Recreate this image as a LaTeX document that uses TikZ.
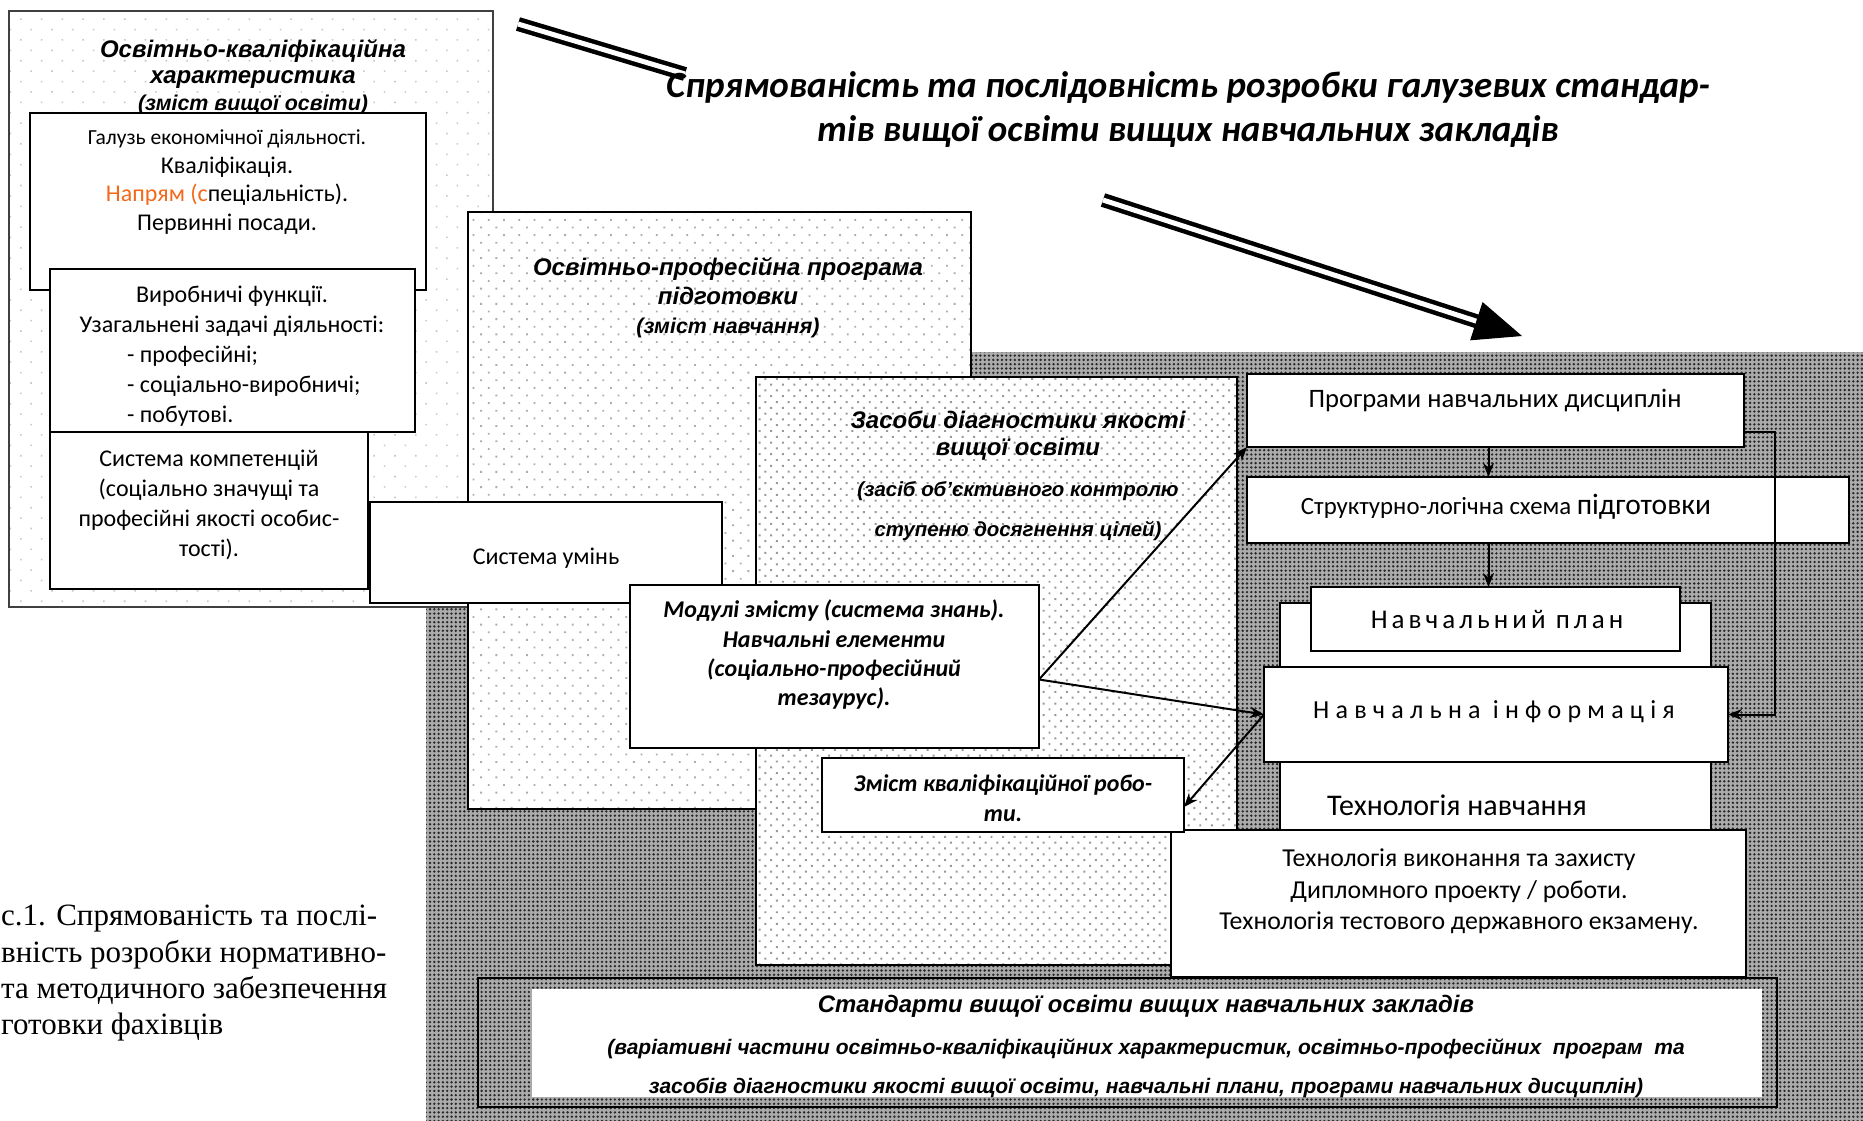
\documentclass[tikz,border=0pt]{standalone}
\usepackage{fontspec}
\setmainfont{Carlito}
\newfontfamily\arialf{Liberation Sans}
\newfontfamily\timesf{Liberation Serif}
\newfontfamily\infofont[LetterSpace=24]{Carlito}
\newfontfamily\planfont[LetterSpace=15]{Carlito}
\usetikzlibrary{positioning,patterns.meta,arrows.meta,calc}
\definecolor{napryam}{HTML}{F26A1B}

\tikzset{
  frame/.style={draw, line width=1.6pt, inner sep=0pt, outer sep=0pt, anchor=north west},
  wbox/.style={frame, fill=white},
  dotbox/.style={frame, preaction={fill=white}, pattern={Dots[angle=45,distance=10.8pt,radius=1.3pt]}, pattern color=black!32},
  sparsebox/.style={frame, preaction={fill=white}, pattern={Dots[angle=45,distance=14.7pt,radius=1.1pt]}, pattern color=black!22},
  densebox/.style={frame, preaction={fill=white}, pattern={Dots[angle=45,distance=8.2pt,radius=1.4pt]}, pattern color=black!40},
  greyarea/.style={frame, preaction={fill=black!33}, pattern={Dots[distance=4.3pt,radius=1.3pt]}, pattern color=black!85},
  cal/.style 2 args={font=\fontsize{#1}{#2}\selectfont, align=center, inner sep=0pt},
  calbi/.style 2 args={font=\bfseries\itshape\fontsize{#1}{#2}\selectfont, align=center, inner sep=0pt},
  ari/.style 2 args={font=\arialf\bfseries\itshape\fontsize{#1}{#2}\selectfont, align=center, inner sep=0pt},
  arr/.style={line width=2pt, -{Stealth[length=14pt,width=11pt]}},
  dbl/.style={line width=4.5pt, double=white, double distance=5pt}
}

\begin{document}
\begin{tikzpicture}[x=1pt,y=-1pt]
  \useasboundingbox (0,0) rectangle (1863,1121);

  \node[greyarea, draw=none, minimum width=1437pt, minimum height=769pt] (grey) at (426,352) {};

  \node[sparsebox, draw=black!75, minimum width=484pt, minimum height=596pt] (okh) at (9,11) {};
  \node[ari={24}{26.5}, anchor=north] (okhT) at (253,39) {Освітньо-кваліфікаційна\\характеристика\\{\fontsize{21.4}{26}\selectfont(зміст вищої освіти)}};
  \node[wbox, minimum width=396pt, minimum height=177pt] (galuz) at (30,113) {};
  \node[cal={24}{28.5}, anchor=north] (galuzT) at (227,130) {{\fontsize{21.5}{28.5}\selectfont Галузь економічної діяльності.}\\Кваліфікація.\\{\color{napryam}Напрям (с}пеціальність).\\Первинні посади.};
  \node[wbox, minimum width=365pt, minimum height=163pt] (vyrob) at (50,269) {};
  \node[cal={24}{29.7}, anchor=north] (vyrobT) at (232,286) {Виробничі функції.\\Узагальнені задачі діяльності:};
  \node[cal={24}{29.7}, align=left, anchor=north west] (vyrobL) at (127,346) {- професійні;\\- соціально-виробничі;\\- побутові.};
  \node[wbox, minimum width=318pt, minimum height=157pt] (kompet) at (50,432) {};
  \node[cal={24}{29.8}, anchor=north] (kompetT) at (209,450) {Система компетенцій\\(соціально значущі та\\професійні якості особис-\\тості).};

  \node[dotbox, minimum width=503pt, minimum height=597pt] (opp) at (468,212) {};
  \node[ari={24}{29}, anchor=north] (oppT) at (728,257) {Освітньо-професійна програма\\підготовки\\{\fontsize{21.4}{34}\selectfont(зміст навчання)}};
  \node[wbox, minimum width=352pt, minimum height=101pt] (umin) at (370,502) {};
  \node[cal={24}{28}] (uminT) at (546,558) {Система умінь};

  \node[densebox, minimum width=481pt, minimum height=588pt] (zasoby) at (756,377) {};
  \node[ari={24}{26.5}, anchor=north] (zasobyT) at (1018,411) {Засоби діагностики якості\\вищої освіти};
  \node[ari={20.4}{40}, anchor=north] (zasobyS) at (1018,481) {(засіб об’єктивного контролю\\ступеню досягнення цілей)};
  \node[wbox, minimum width=409pt, minimum height=163pt] (modul) at (630,585) {};
  \node[calbi={24}{29.3}, anchor=north] (modulT) at (834,600) {Модулі змісту (система знань).\\Навчальні елементи\\(соціально-професійний\\тезаурус).};

  \node[wbox, minimum width=497pt, minimum height=73pt] (prog) at (1247,374) {};
  \node[cal={26.6}{30}] (progT) at (1495,401) {Програми навчальних дисциплін};
  \node[wbox, minimum width=602pt, minimum height=66pt] (struct) at (1247,477) {};
  \node[cal={24.8}{30}] (structT) at (1506,507) {Структурно-логічна схема {\fontsize{29.5}{30}\selectfont підготовки}};
  \node[wbox, minimum width=431pt, minimum height=227pt] (column) at (1280,603) {};
  \node[wbox, minimum width=369pt, minimum height=64pt] (plan) at (1311,587) {};
  \node[cal={27}{30}, font=\planfont\fontsize{27}{30}\selectfont] (planT) at (1497,619) {Навчальний план};
  \node[wbox, minimum width=464pt, minimum height=95pt] (info) at (1264,667) {};
  \node[cal={26}{30}, font=\infofont\fontsize{26}{30}\selectfont] (infoT) at (1494,712) {Навчальна інформація};
  \node[cal={30}{32}] (navchT) at (1457,805) {Технологія навчання};
  \node[wbox, minimum width=575pt, minimum height=147pt] (techv) at (1171,830) {};
  \node[cal={25.8}{31.5}, anchor=north] (techvT) at (1459,849) {Технологія виконання та захисту\\Дипломного проекту / роботи.\\Технологія тестового державного екзамену.};
  \node[wbox, minimum width=362pt, minimum height=74pt] (zmist) at (822,758) {};
  \node[calbi={24}{30}, anchor=north] (zmistT) at (1003,774) {Зміст кваліфікаційної робо-\\ти.};

  \node[greyarea, line width=2.5pt, minimum width=1299pt, minimum height=129pt] (stdout) at (478,978) {};
  \node[frame, draw=none, fill=white, minimum width=1230pt, minimum height=108pt] (stdin) at (532,989) {};
  \node[ari={21}{39}, anchor=north] (stdT) at (1146,995) {{\fontsize{23.9}{28}\selectfont Стандарти вищої освіти вищих навчальних закладів}\\[3pt](варіативні частини освітньо-кваліфікаційних характеристик, освітньо-професійних\ \ програм\ \ та\\засобів діагностики якості вищої освіти, навчальні плани, програми навчальних дисциплін)};

  \coordinate (mo) at ([yshift=-13pt]modul.east);
  \draw[arr] (mo) -- (prog.south west);
  \draw[arr] (mo) -- (info.west);
  \draw[arr] (info.west) -- ([yshift=-12pt]zmist.east);
  \draw[arr] ([xshift=-7pt]prog.south) -- ([xshift=-7pt]prog.south |- struct.north);
  \draw[arr] ([xshift=-7pt]prog.south |- struct.south) -- ([xshift=-7pt]prog.south |- plan.north);
  \draw[arr] ([yshift=-21pt]prog.east) -- ++(31,0) |- (info.east);

  \coordinate (a1s) at (518,24);
  \coordinate (a1e) at (685,74);
  \coordinate (a2s) at (1103,200);
  \coordinate (a2e) at (1522,336);
  \draw[dbl] (a1s) -- (a1e);
  \draw[dbl, shorten >=40pt] (a2s) -- (a2e);
  \draw[line width=1pt, -{Triangle[length=48pt,width=40pt]}] ($(a2e)!48pt!(a2s)$) -- (a2e);

  \node[calbi={37}{44}, anchor=north] (title) at (1188,71) {Спрямованість та послідовність розробки галузевих стандар-\\тів вищої освіти вищих навчальних закладів};

  \node[font=\timesf\fontsize{31}{36.3}\selectfont, align=left, inner sep=0pt, anchor=north west] (capt) at (1,905) {с.1. Спрямованість та послі-\\вність розробки нормативно-\\та методичного забезпечення\\готовки фахівців};
\end{tikzpicture}
\end{document}
